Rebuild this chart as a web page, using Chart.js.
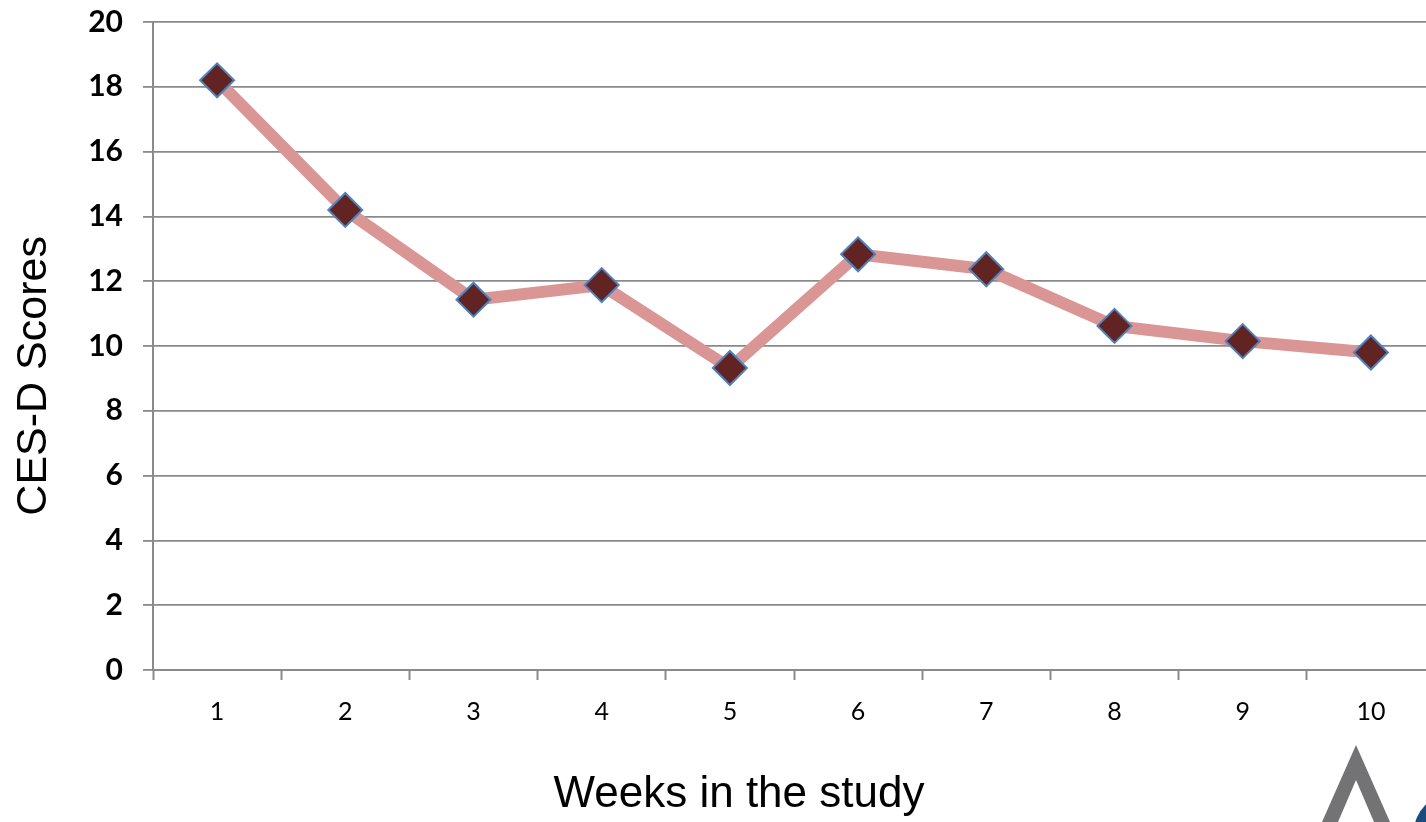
<!DOCTYPE html>
<html>
<head>
<meta charset="utf-8">
<script src="https://cdn.jsdelivr.net/npm/chart.js@4/dist/chart.umd.min.js"></script>
<style>
  html, body { margin: 0; padding: 0; background: #ffffff; overflow: hidden; width: 1426px; height: 822px; }
  #c { display: block; }
</style>
</head>
<body>
<canvas id="c" width="1454" height="822"></canvas>
<script>
const weeks = ['1', '2', '3', '4', '5', '6', '7', '8', '9', '10'];
const cesdScores = [18.2, 14.2, 11.43, 11.88, 9.32, 12.83, 12.37, 10.62, 10.15, 9.8];
const yTickStep = 2;
const yMin = 0;
const yMax = 20;
const xTitle = 'Weeks in the study         ';
const yTitle = 'CES-D Scores     ';

const logoPlugin = {
  id: 'logo',
  afterDraw(chart) {
    const ctx = chart.ctx;
    ctx.save();
    ctx.fillStyle = '#737274';
    ctx.beginPath();
    ctx.moveTo(1356, 745);
    ctx.lineTo(1390, 822);
    ctx.lineTo(1374, 822);
    ctx.lineTo(1356, 780);
    ctx.lineTo(1338, 822);
    ctx.lineTo(1322, 822);
    ctx.closePath();
    ctx.fill();
    ctx.fillStyle = '#1d4a7c';
    ctx.beginPath();
    ctx.arc(1452, 832, 38, 0, Math.PI * 2);
    ctx.fill();
    ctx.restore();
  }
};

new Chart(document.getElementById('c'), {
  type: 'line',
  data: {
    labels: weeks,
    datasets: [{
      data: cesdScores,
      borderColor: '#d99694',
      borderWidth: 12,
      pointStyle: 'rectRot',
      pointRadius: 17,
      pointHoverRadius: 17,
      pointBackgroundColor: '#622423',
      pointBorderColor: '#4f81bd',
      pointBorderWidth: 2,
      tension: 0,
      fill: false
    }]
  },
  options: {
    responsive: false,
    animation: false,
    devicePixelRatio: 1,
    layout: { padding: { left: 0, right: 4, top: 22, bottom: 0 } },
    plugins: { legend: { display: false }, tooltip: { enabled: false } },
    scales: {
      x: {
        type: 'category',
        offset: true,
        grid: {
          display: true,
          offset: true,
          drawOnChartArea: false,
          drawTicks: true,
          tickLength: 10,
          tickColor: '#8a8a8a',
          tickWidth: 2
        },
        border: { display: true, color: '#8a8a8a', width: 2 },
        ticks: {
          color: '#000000',
          font: { family: 'Lato', size: 25 },
          padding: 17,
          maxRotation: 0,
          autoSkip: false
        },
        title: {
          display: true,
          text: xTitle,
          color: '#000000',
          font: { family: '"Liberation Sans", Arial', size: 44 },
          padding: { top: 0, bottom: 1 }
        },
        afterFit(scale) { scale.height = 152; scale.paddingLeft = 0; scale.paddingRight = 0; }
      },
      y: {
        min: yMin,
        max: yMax,
        grid: {
          color: '#8a8a8a',
          lineWidth: 1.8,
          drawTicks: true,
          tickLength: 10,
          tickColor: '#8a8a8a'
        },
        border: { display: true, color: '#8a8a8a', width: 2 },
        ticks: {
          stepSize: yTickStep,
          color: '#000000',
          font: { family: 'Lato', size: 30, weight: 'bold' },
          padding: 20
        },
        title: {
          display: true,
          text: yTitle,
          color: '#000000',
          font: { family: '"Liberation Sans", Arial', size: 43 },
          padding: { top: 8, bottom: 0 }
        },
        afterFit(scale) { scale.width = 153; scale.paddingTop = 0; scale.paddingBottom = 0; }
      }
    }
  },
  plugins: [logoPlugin]
});
</script>
</body>
</html>
